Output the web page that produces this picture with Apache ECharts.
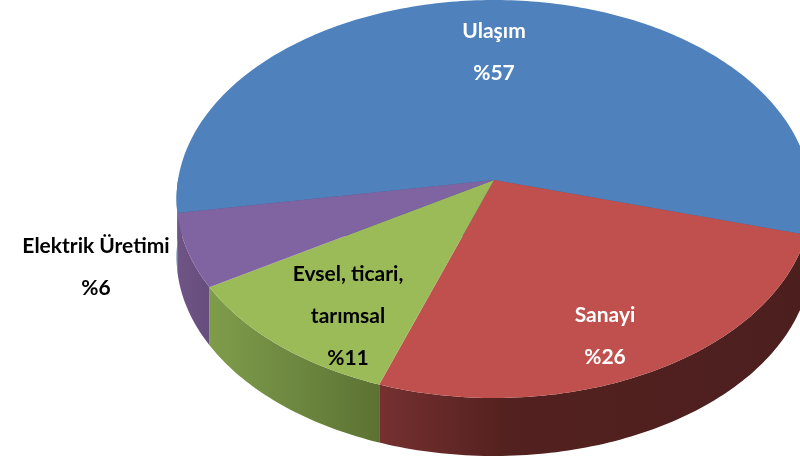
<!DOCTYPE html>
<html><head><meta charset="utf-8">
<style>html,body{margin:0;padding:0;background:#fff}#c{width:800px;height:462px}</style>
<script src="https://cdn.jsdelivr.net/npm/echarts@6/dist/echarts.min.js"></script>
</head><body><div id="c"></div>
<script>
const categories = ['Ulaşım', 'Sanayi', 'Evsel, ticari,\ntarımsal', 'Elektrik Üretimi'];
const values = [57, 26, 11, 6];
const topColors = ['#4f81bd', '#c0504d', '#9bbb59', '#8064a2'];
const sideStops = [
  [[0, '#3c6594'], [1, '#3c6594']],
  [[0, '#763030'], [0.3, '#53211f'], [1, '#4c1f1f']],
  [[0, '#7f9c4a'], [0.5, '#6d8840'], [1, '#5c7232']],
  [[0, '#6f5585'], [1, '#654d7d']]
];
const textColors = ['#fff', '#fff', '#000', '#000'];
const labelAnchors = [[494, 52], [605, 336], [348, 316], [96, 267]];

// projected pie geometry
const apexX = 494, apexY = 180, radiusX = 316, radiusY = 180, persp = -0.0955, depth = 58;
const startAngle = 170.5;
const total = values.reduce((a, b) => a + b, 0);
const cumulative = values.map((_, i) => values.slice(0, i).reduce((a, b) => a + b, 0));
function project(deg) {
  const t = deg * Math.PI / 180, u = Math.cos(t), v = Math.sin(t), w = 1 + persp * v;
  return [apexX + radiusX * u / w, apexY + radiusY * v / w * (1 + 0) + 0 + radiusY * 0];
}
function arc(i) {
  const a0 = startAngle + cumulative[i] / total * 360, a1 = a0 + values[i] / total * 360;
  const pts = [];
  for (let a = a0; a < a1; a += 1) pts.push(a);
  pts.push(a1);
  return pts;
}
function projectFull(deg) {
  const t = deg * Math.PI / 180, u = Math.cos(t), v = Math.sin(t), w = 1 + persp * v;
  return [apexX + radiusX * u / w, (radiusY * v + apexY) / w];
}
const chart = echarts.init(document.getElementById('c'), null, {renderer: 'canvas'});
const rows = values.map((v, i) => ({name: categories[i], value: [i, v]}));
function side(params, api) {
  const i = api.value(0);
  const front = arc(i).filter(a => Math.sin(a * Math.PI / 180) > -0.02 || false);
  if (front.length < 2) return {type: 'group', children: []};
  const top = front.map(projectFull);
  const bottom = top.map(p => [p[0], p[1] + depth]).reverse();
  return {
    type: 'polygon',
    shape: {points: top.concat(bottom)},
    style: {fill: new echarts.graphic.LinearGradient(0, 0, 1, 0,
      sideStops[i].map(s => ({offset: s[0], color: s[1]})))}
  };
}
function face(params, api) {
  const i = api.value(0);
  return {
    type: 'polygon',
    shape: {points: [[apexX, apexY]].concat(arc(i).map(projectFull))},
    style: {fill: topColors[i]}
  };
}
function label(params, api) {
  const i = api.value(0);
  return {
    type: 'text',
    style: {
      x: labelAnchors[i][0], y: labelAnchors[i][1],
      text: categories[i] + '\n%' + values[i],
      fill: textColors[i], align: 'center', verticalAlign: 'middle',
      font: 'bold 21px Lato', lineHeight: 42
    }
  };
}
chart.setOption({
  animation: false,
  backgroundColor: '#fff',
  series: [
    {type: 'custom', coordinateSystem: 'none', renderItem: side, data: rows, z: 1, silent: true},
    {type: 'custom', coordinateSystem: 'none', renderItem: face, data: rows, z: 2, silent: true},
    {type: 'custom', coordinateSystem: 'none', renderItem: label, data: rows, z: 3, silent: true}
  ]
});
</script></body></html>
